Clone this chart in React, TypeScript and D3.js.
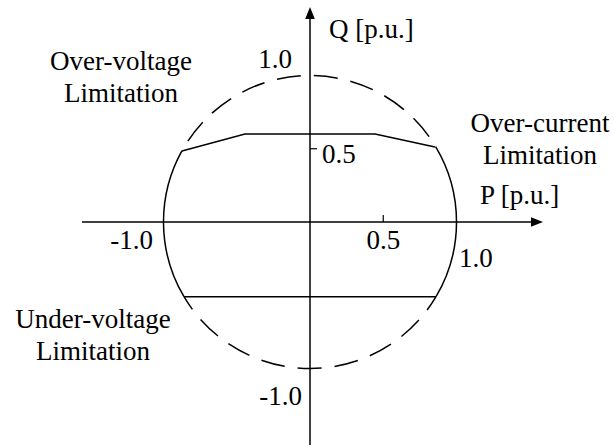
import React from "react";
import * as d3 from "d3";

// Capability curve vertices [P, Q] in p.u.
const upperLimitP = [-0.874, -0.444, 0.444, 0.853];
const upperLimitQ = [0.485, 0.6, 0.6, 0.512];
const lowerLimitP = [-0.86, 0.86];
const lowerLimitQ = [-0.51, -0.51];
const circleRadius = 1.0;

const xTicks = [0.5];
const yTicks = [0.5];

const axisLabels = { p: "P [p.u.]", q: "Q [p.u.]" };
const regionLabels = [
  { lines: ["Over-voltage", "Limitation"], x: 121, y: 70 },
  { lines: ["Over-current", "Limitation"], x: 540, y: 132 },
  { lines: ["Under-voltage", "Limitation"], x: 93, y: 328 },
];

const W = 614;
const H = 445;
const CX = 310;
const CY = 222;
const R = 146.5;

export default function App() {
  const x = d3.scaleLinear().domain([-1, 1]).range([CX - R, CX + R]);
  const y = d3.scaleLinear().domain([-1, 1]).range([CY + R, CY - R]);
  const rpx = x(circleRadius) - x(0);

  const ang = (p: number, q: number) => -Math.atan2(q, p); // screen angle

  const aTR = ang(upperLimitP[3], upperLimitQ[3]);
  const aTL = ang(upperLimitP[0], upperLimitQ[0]);
  const aBR = ang(lowerLimitP[1], lowerLimitQ[1]);
  const aBL = ang(lowerLimitP[0], lowerLimitQ[0]);

  const arcPath = (a0: number, a1: number, ccw: boolean) => {
    const p = d3.path();
    p.moveTo(x(0) + rpx * Math.cos(a0), y(0) + rpx * Math.sin(a0));
    p.arc(x(0), y(0), rpx, a0, a1, ccw);
    return p.toString();
  };

  // solid sides
  const rightArc = arcPath(aTR, aBR, false);
  const leftArc = arcPath(aTL, aBL + (aBL > 0 ? -2 * Math.PI : 0), true);
  // dashed top / bottom
  const topArc = arcPath(aTR, aTL, true);
  const bottomArc = arcPath(aBR, aBL, false);

  const line = d3
    .line<[number, number]>()
    .x((d) => x(d[0]))
    .y((d) => y(d[1]));
  const upperPts = upperLimitP.map((p, i) => [p, upperLimitQ[i]] as [number, number]);
  const lowerPts = lowerLimitP.map((p, i) => [p, lowerLimitQ[i]] as [number, number]);

  const font = "'Liberation Serif', 'Times New Roman', serif";
  const fs = 27;
  const sw = 1.5;

  const axisLeft = 82;
  const axisRight = 543;
  const axisTop = 7;
  const axisBottom = 445;

  return (
    <svg
      width={W}
      height={H}
      style={{ position: "fixed", left: 0, top: 0, background: "#fff" }}
      fontFamily={font}
      fontSize={fs}
    >
      <rect width={W} height={H} fill="#fff" />
      {/* axes */}
      <line x1={axisLeft} x2={axisRight - 8} y1={y(0)} y2={y(0)} stroke="#000" strokeWidth={sw} />
      <path
        d={`M${axisRight},${y(0)} L${axisRight - 12},${y(0) - 4.8} L${axisRight - 12},${y(0) + 4.8} Z`}
        fill="#000"
      />
      <line x1={x(0)} x2={x(0)} y1={axisBottom} y2={axisTop + 8} stroke="#000" strokeWidth={sw} />
      <path
        d={`M${x(0)},${axisTop} L${x(0) - 4.8},${axisTop + 12} L${x(0) + 4.8},${axisTop + 12} Z`}
        fill="#000"
      />
      {/* ticks */}
      {xTicks.map((t) => (
        <line key={"xt" + t} x1={x(t)} x2={x(t)} y1={y(0)} y2={y(0) - 7} stroke="#000" strokeWidth={1.2} />
      ))}
      {yTicks.map((t) => (
        <line key={"yt" + t} x1={x(0)} x2={x(0) + 7} y1={y(t)} y2={y(t)} stroke="#000" strokeWidth={1.2} />
      ))}
      {/* circle */}
      <path d={topArc} fill="none" stroke="#000" strokeWidth={sw} strokeDasharray="24 13" strokeDashoffset={25} />
      <path d={bottomArc} fill="none" stroke="#000" strokeWidth={sw} strokeDasharray="24 13" strokeDashoffset={8} />
      <path d={rightArc} fill="none" stroke="#000" strokeWidth={sw} />
      <path d={leftArc} fill="none" stroke="#000" strokeWidth={sw} />
      {/* limits */}
      <path d={line(upperPts) || ""} fill="none" stroke="#000" strokeWidth={sw} />
      <path d={line(lowerPts) || ""} fill="none" stroke="#000" strokeWidth={sw} />

      {/* tick labels */}
      <text x={x(0.5)} y={249} textAnchor="middle">0.5</text>
      <text x={153} y={249} textAnchor="end">-1.0</text>
      <text x={459} y={267}>1.0</text>
      <text x={322} y={163}>0.5</text>
      <text x={292} y={68} textAnchor="end">1.0</text>
      <text x={302} y={405} textAnchor="end">-1.0</text>

      {/* axis labels */}
      <text x={329} y={38}>{axisLabels.q}</text>
      <text x={480} y={204}>{axisLabels.p}</text>

      {/* region labels */}
      {regionLabels.map((r, i) => (
        <text key={i} x={r.x} y={r.y} textAnchor="middle">
          {r.lines.map((l, j) => (
            <tspan key={j} x={r.x} dy={j === 0 ? 0 : 32}>
              {l}
            </tspan>
          ))}
        </text>
      ))}
    </svg>
  );
}
